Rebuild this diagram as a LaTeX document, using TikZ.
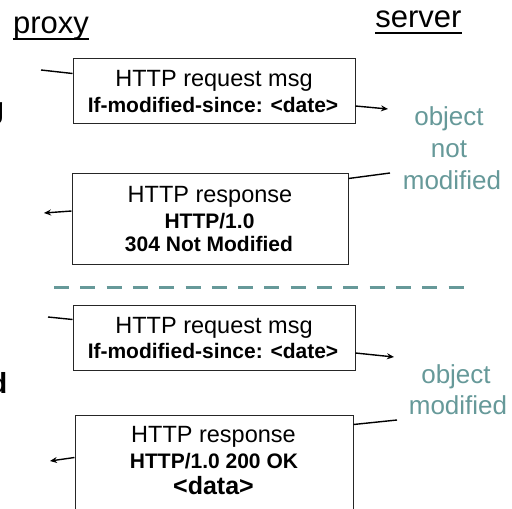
\documentclass[tikz,border=0pt]{standalone}
\usepackage{fontspec}
\setmainfont{Liberation Sans}
\usetikzlibrary{arrows.meta}
\definecolor{teal1}{HTML}{669999}
\begin{document}
\begin{tikzpicture}[x=1pt,y=-1pt,
  msgbox/.style={draw=black!85,line width=1pt,rectangle,inner sep=0pt,fill=white},
  reg/.style={font=\fontsize{23.5}{28}\selectfont,inner sep=0pt,anchor=base},
  bld/.style={font=\fontsize{21}{25}\selectfont\bfseries,inner sep=0pt,anchor=base},
  head/.style={font=\fontsize{31}{36}\selectfont,inner sep=0pt,anchor=base},
  note/.style={font=\fontsize{26}{32}\selectfont,text=teal1,inner sep=0pt,anchor=base},
  conn/.style={line width=1.4pt,black},
  arr/.style={conn,-{Stealth[length=7pt,width=6pt]}}]
\useasboundingbox (0,0) rectangle (512,509);
\clip (0,0) rectangle (512,509);
\fill[white] (0,0) rectangle (512,509);

% headers
\node[head] (proxy) at (51,33) {proxy};
\node[head] (server) at (418.5,27) {server};
\draw[line width=1.8pt] ([yshift=-6pt]proxy.base west) -- ([yshift=-6pt]proxy.base east);
\draw[line width=1.8pt] ([yshift=-6pt]server.base west) -- ([yshift=-6pt]server.base east);

% partial text at left edge
\node[font=\fontsize{30}{36}\selectfont\bfseries,inner sep=0pt,anchor=base east] (lg) at (4.5,118.5) {g};
\node[font=\fontsize{29}{36}\selectfont\bfseries,inner sep=0pt,anchor=base east] (ld) at (7.5,393) {d};

% boxes
\node[msgbox,minimum width=282pt,minimum height=65pt] (req1) at (214,90.5) {};
\node[msgbox,minimum width=276pt,minimum height=91pt] (resp1) at (210,218.5) {};
\node[msgbox,minimum width=282pt,minimum height=65pt] (req2) at (214,337.5) {};
\node[msgbox,minimum width=278pt,minimum height=110pt] (resp2) at (214,470) {};

% box texts
\node[reg] (t1a) at (214,86) {HTTP request msg};
\node[bld] (t1b) at (213,112) {If-modified-since: <date>};
\node[reg] (t2a) at (210,202) {HTTP response};
\node[bld] (t2b) at (209.5,228) {HTTP/1.0};
\node[bld] (t2c) at (209,251) {304 Not Modified};
\node[reg] (t3a) at (214,333) {HTTP request msg};
\node[bld] (t3b) at (213,358) {If-modified-since: <date>};
\node[reg] (t4a) at (213.5,442) {HTTP response};
\node[bld] (t4b) at (214,468) {HTTP/1.0 200 OK};
\node[font=\fontsize{25}{30}\selectfont\bfseries,inner sep=0pt,anchor=base] (t4c) at (213.5,494) {<data>};

% teal notes
\node[note] (n1a) at (449,125) {object};
\node[note] (n1b) at (449,157) {not};
\node[note] (n1c) at (452,189) {modified};
\node[note] (n2a) at (456,383) {object};
\node[note] (n2b) at (458,414) {modified};

% dashed separator
\coordinate (dl) at (54,287);
\coordinate (dr) at (464,287);
\draw[teal1,line width=3pt,dash pattern=on 15pt off 11.3pt] (dl) -- (dr);

% connector end points
\coordinate (c1) at (41,70);
\coordinate (c2) at (388,109);
\coordinate (c3) at (390,173);
\coordinate (c4) at (44,213);
\coordinate (c5) at (48,317);
\coordinate (c6) at (394,357);
\coordinate (c7) at (397,420);
\coordinate (c8) at (50,461);

% connectors
\draw[conn] (c1) -- ([yshift=-16pt]req1.north west);
\draw[arr] ([yshift=-15.5pt]req1.east) -- (c2);
\draw[conn] (c3) -- ([yshift=-6pt]resp1.north east);
\draw[arr] ([yshift=7.5pt]resp1.west) -- (c4);
\draw[conn] (c5) -- ([yshift=-15pt]req2.north west);
\draw[arr] ([yshift=-15.5pt]req2.east) -- (c6);
\draw[conn] (c7) -- ([yshift=-10pt]resp2.north east);
\draw[arr] ([yshift=-43pt]resp2.north west) -- (c8);
\end{tikzpicture}
\end{document}
